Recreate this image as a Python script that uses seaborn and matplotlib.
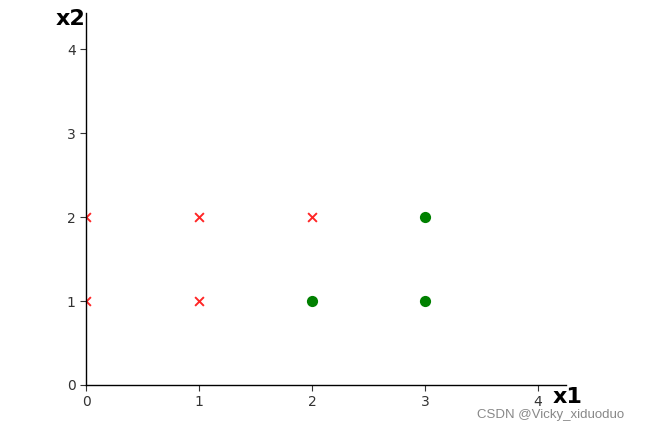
import matplotlib
matplotlib.use("Agg")
import matplotlib.pyplot as plt
import seaborn as sns
import pandas as pd

neg_x1 = [0, 0, 1, 1, 2]
neg_x2 = [1, 2, 1, 2, 2]
pos_x1 = [2, 3, 3]
pos_x2 = [1, 1, 2]
ticks = [0, 1, 2, 3, 4]

sns.set_style("white")
plt.rcParams['font.family'] = ['DejaVu Sans']

fig = plt.figure(figsize=(6.47, 4.33), dpi=100)
ax = fig.add_axes([86/647, 1 - 385/433, (566-86)/647, (385-13)/433])

neg = pd.DataFrame({"x1": neg_x1, "x2": neg_x2})
pos = pd.DataFrame({"x1": pos_x1, "x2": pos_x2})
sns.scatterplot(data=neg, x="x1", y="x2", marker="x", color="red", alpha=0.85,
                s=40, linewidth=1.4, ax=ax)
sns.scatterplot(data=pos, x="x1", y="x2", marker="o", color="green",
                s=65, edgecolor="green", linewidth=0, ax=ax)

ax.set_xlim(0, 4.25)
ax.set_ylim(0, 4.43)
ax.set_xticks(ticks)
ax.set_yticks(ticks)
ax.set_xlabel("")
ax.set_ylabel("")
for s in ["top", "right"]:
    ax.spines[s].set_visible(False)
for s in ["left", "bottom"]:
    ax.spines[s].set_color("black")
    ax.spines[s].set_linewidth(1.0)
ax.tick_params(axis="both", direction="out", length=4, width=0.8,
               colors="#333333", labelsize=10, left=True, bottom=True)

fig.text(568/647, 1 - 397/433, "x1", fontsize=16, fontweight="bold",
         ha="center", va="center", color="black")
fig.text(71/647, 1 - 19/433, "x2", fontsize=16, fontweight="bold",
         ha="center", va="center", color="black")
fig.text(551/647, 1 - 415/433, "CSDN @Vicky_xiduoduo", fontsize=9.5,
         family=["Liberation Sans", "DejaVu Sans"],
         ha="center", va="center", color="#888888")

fig.savefig("out.png", dpi=100)
